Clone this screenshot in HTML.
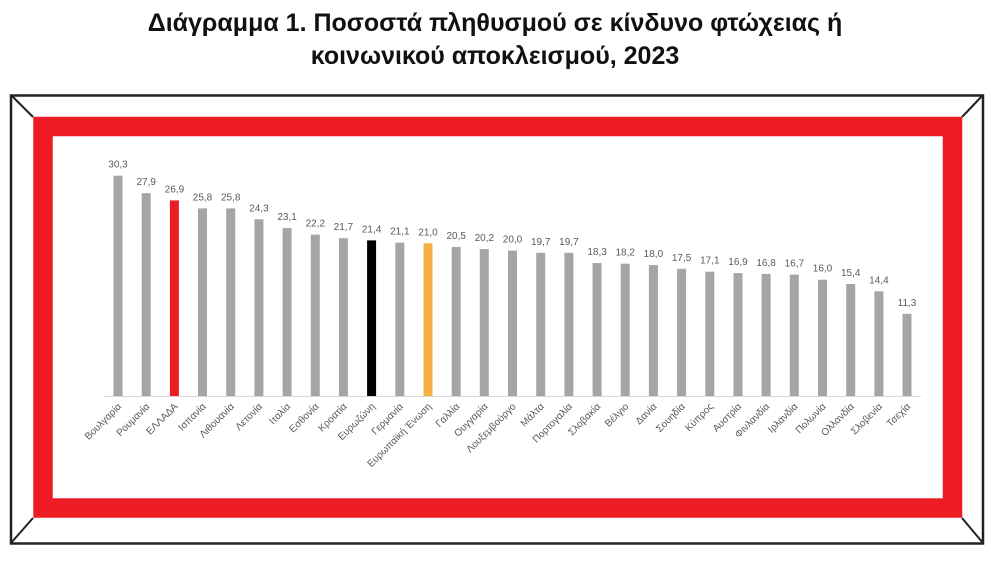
<!DOCTYPE html>
<html><head><meta charset="utf-8"><style>
body{margin:0;width:991px;height:561px;background:#fff;overflow:hidden}
</style></head><body>
<svg width="991" height="561" xmlns="http://www.w3.org/2000/svg" font-family="Liberation Sans, sans-serif">
<text x="495" y="31" text-anchor="middle" font-size="25" font-weight="bold" fill="#111">Διάγραμμα 1. Ποσοστά πληθυσμού σε κίνδυνο φτώχειας ή</text>
<text x="495" y="64" text-anchor="middle" font-size="25" font-weight="bold" fill="#111">κοινωνικού αποκλεισμού, 2023</text>
<rect x="11" y="95.5" width="972" height="448" fill="none" stroke="#222" stroke-width="2.5"/>
<line x1="11" y1="95" x2="33" y2="117" stroke="#222" stroke-width="2"/>
<line x1="983" y1="95" x2="962" y2="117" stroke="#222" stroke-width="2"/>
<line x1="11" y1="543" x2="33" y2="518" stroke="#222" stroke-width="2"/>
<line x1="983" y1="543" x2="962" y2="518" stroke="#222" stroke-width="2"/>
<rect x="43" y="126.5" width="909.5" height="381.5" fill="none" stroke="#ed1c24" stroke-width="19.5"/>
<line x1="104" y1="396.5" x2="921" y2="396.5" stroke="#d9d9d9" stroke-width="1"/>
<g font-size="10" fill="#595959">
<g transform="translate(118,0)"><rect x="-4.5" y="175.7" width="9" height="220.3" fill="#a5a5a5"/><text y="167.7" text-anchor="middle">30,3</text><text transform="translate(4,407) rotate(-45)" text-anchor="end">Βουλγαρία</text></g>
<g transform="translate(146.2,0)"><rect x="-4.5" y="193.2" width="9" height="202.8" fill="#a5a5a5"/><text y="185.2" text-anchor="middle">27,9</text><text transform="translate(4,407) rotate(-45)" text-anchor="end">Ρουμανία</text></g>
<g transform="translate(174.4,0)"><rect x="-4.5" y="200.4" width="9" height="195.6" fill="#ed1c24"/><text y="192.4" text-anchor="middle">26,9</text><text transform="translate(4,407) rotate(-45)" text-anchor="end">ΕΛΛΑΔΑ</text></g>
<g transform="translate(202.5,0)"><rect x="-4.5" y="208.4" width="9" height="187.6" fill="#a5a5a5"/><text y="200.4" text-anchor="middle">25,8</text><text transform="translate(4,407) rotate(-45)" text-anchor="end">Ισπανία</text></g>
<g transform="translate(230.7,0)"><rect x="-4.5" y="208.4" width="9" height="187.6" fill="#a5a5a5"/><text y="200.4" text-anchor="middle">25,8</text><text transform="translate(4,407) rotate(-45)" text-anchor="end">Λιθουανία</text></g>
<g transform="translate(258.9,0)"><rect x="-4.5" y="219.3" width="9" height="176.7" fill="#a5a5a5"/><text y="211.3" text-anchor="middle">24,3</text><text transform="translate(4,407) rotate(-45)" text-anchor="end">Λετονία</text></g>
<g transform="translate(287.1,0)"><rect x="-4.5" y="228.1" width="9" height="167.9" fill="#a5a5a5"/><text y="220.1" text-anchor="middle">23,1</text><text transform="translate(4,407) rotate(-45)" text-anchor="end">Ιταλία</text></g>
<g transform="translate(315.3,0)"><rect x="-4.5" y="234.6" width="9" height="161.4" fill="#a5a5a5"/><text y="226.6" text-anchor="middle">22,2</text><text transform="translate(4,407) rotate(-45)" text-anchor="end">Εσθονία</text></g>
<g transform="translate(343.4,0)"><rect x="-4.5" y="238.2" width="9" height="157.8" fill="#a5a5a5"/><text y="230.2" text-anchor="middle">21,7</text><text transform="translate(4,407) rotate(-45)" text-anchor="end">Κροατία</text></g>
<g transform="translate(371.6,0)"><rect x="-4.5" y="240.4" width="9" height="155.6" fill="#000"/><text y="232.4" text-anchor="middle">21,4</text><text transform="translate(4,407) rotate(-45)" text-anchor="end">Ευρωζώνη</text></g>
<g transform="translate(399.8,0)"><rect x="-4.5" y="242.6" width="9" height="153.4" fill="#a5a5a5"/><text y="234.6" text-anchor="middle">21,1</text><text transform="translate(4,407) rotate(-45)" text-anchor="end">Γερμανία</text></g>
<g transform="translate(428,0)"><rect x="-4.5" y="243.3" width="9" height="152.7" fill="#f4b043"/><text y="235.3" text-anchor="middle">21,0</text><text transform="translate(4,407) rotate(-45)" text-anchor="end">Ευρωπαϊκή Ένωση</text></g>
<g transform="translate(456.2,0)"><rect x="-4.5" y="247" width="9" height="149" fill="#a5a5a5"/><text y="239" text-anchor="middle">20,5</text><text transform="translate(4,407) rotate(-45)" text-anchor="end">Γαλλία</text></g>
<g transform="translate(484.3,0)"><rect x="-4.5" y="249.1" width="9" height="146.9" fill="#a5a5a5"/><text y="241.1" text-anchor="middle">20,2</text><text transform="translate(4,407) rotate(-45)" text-anchor="end">Ουγγαρία</text></g>
<g transform="translate(512.5,0)"><rect x="-4.5" y="250.6" width="9" height="145.4" fill="#a5a5a5"/><text y="242.6" text-anchor="middle">20,0</text><text transform="translate(4,407) rotate(-45)" text-anchor="end">Λουξεμβούργο</text></g>
<g transform="translate(540.7,0)"><rect x="-4.5" y="252.8" width="9" height="143.2" fill="#a5a5a5"/><text y="244.8" text-anchor="middle">19,7</text><text transform="translate(4,407) rotate(-45)" text-anchor="end">Μάλτα</text></g>
<g transform="translate(568.9,0)"><rect x="-4.5" y="252.8" width="9" height="143.2" fill="#a5a5a5"/><text y="244.8" text-anchor="middle">19,7</text><text transform="translate(4,407) rotate(-45)" text-anchor="end">Πορτογαλία</text></g>
<g transform="translate(597.1,0)"><rect x="-4.5" y="263" width="9" height="133" fill="#a5a5a5"/><text y="255" text-anchor="middle">18,3</text><text transform="translate(4,407) rotate(-45)" text-anchor="end">Σλοβακία</text></g>
<g transform="translate(625.2,0)"><rect x="-4.5" y="263.7" width="9" height="132.3" fill="#a5a5a5"/><text y="255.7" text-anchor="middle">18,2</text><text transform="translate(4,407) rotate(-45)" text-anchor="end">Βέλγιο</text></g>
<g transform="translate(653.4,0)"><rect x="-4.5" y="265.1" width="9" height="130.9" fill="#a5a5a5"/><text y="257.1" text-anchor="middle">18,0</text><text transform="translate(4,407) rotate(-45)" text-anchor="end">Δανία</text></g>
<g transform="translate(681.6,0)"><rect x="-4.5" y="268.8" width="9" height="127.2" fill="#a5a5a5"/><text y="260.8" text-anchor="middle">17,5</text><text transform="translate(4,407) rotate(-45)" text-anchor="end">Σουηδία</text></g>
<g transform="translate(709.8,0)"><rect x="-4.5" y="271.7" width="9" height="124.3" fill="#a5a5a5"/><text y="263.7" text-anchor="middle">17,1</text><text transform="translate(4,407) rotate(-45)" text-anchor="end">Κύπρος</text></g>
<g transform="translate(738,0)"><rect x="-4.5" y="273.1" width="9" height="122.9" fill="#a5a5a5"/><text y="265.1" text-anchor="middle">16,9</text><text transform="translate(4,407) rotate(-45)" text-anchor="end">Αυστρία</text></g>
<g transform="translate(766.1,0)"><rect x="-4.5" y="273.9" width="9" height="122.1" fill="#a5a5a5"/><text y="265.9" text-anchor="middle">16,8</text><text transform="translate(4,407) rotate(-45)" text-anchor="end">Φινλανδία</text></g>
<g transform="translate(794.3,0)"><rect x="-4.5" y="274.6" width="9" height="121.4" fill="#a5a5a5"/><text y="266.6" text-anchor="middle">16,7</text><text transform="translate(4,407) rotate(-45)" text-anchor="end">Ιρλανδία</text></g>
<g transform="translate(822.5,0)"><rect x="-4.5" y="279.7" width="9" height="116.3" fill="#a5a5a5"/><text y="271.7" text-anchor="middle">16,0</text><text transform="translate(4,407) rotate(-45)" text-anchor="end">Πολωνία</text></g>
<g transform="translate(850.7,0)"><rect x="-4.5" y="284" width="9" height="112" fill="#a5a5a5"/><text y="276" text-anchor="middle">15,4</text><text transform="translate(4,407) rotate(-45)" text-anchor="end">Ολλανδία</text></g>
<g transform="translate(878.9,0)"><rect x="-4.5" y="291.3" width="9" height="104.7" fill="#a5a5a5"/><text y="283.3" text-anchor="middle">14,4</text><text transform="translate(4,407) rotate(-45)" text-anchor="end">Σλοβενία</text></g>
<g transform="translate(907,0)"><rect x="-4.5" y="313.8" width="9" height="82.2" fill="#a5a5a5"/><text y="305.8" text-anchor="middle">11,3</text><text transform="translate(4,407) rotate(-45)" text-anchor="end">Τσεχία</text></g>
</g>
</svg>
</body></html>
